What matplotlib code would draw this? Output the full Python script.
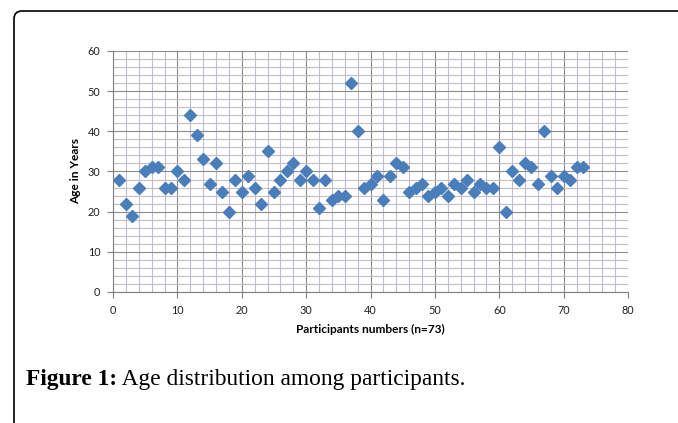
import matplotlib
matplotlib.use("Agg")
import matplotlib.pyplot as plt
from matplotlib.patches import FancyBboxPatch
from matplotlib.ticker import MultipleLocator

participants = list(range(1, 74))
ages = [28, 22, 19, 26, 30, 31, 31, 26, 26, 30,
        28, 44, 39, 33, 27, 32, 25, 20, 28, 25,
        29, 26, 22, 35, 25, 28, 30, 32, 28, 30,
        28, 21, 28, 23, 24, 24, 52, 40, 26, 27,
        29, 23, 29, 32, 31, 25, 26, 27, 24, 25,
        26, 24, 27, 26, 28, 25, 27, 26, 26, 36,
        20, 30, 28, 32, 31, 27, 40, 29, 26, 29,
        28, 31, 31]
x_label = "Participants numbers (n=73)"
y_label = "Age in Years"
caption_bold = "Figure 1:"
caption_text = " Age distribution among participants."

fig = plt.figure(figsize=(6.78, 4.23), dpi=100)
ax = fig.add_axes([113/678, 1 - 292/423, (628-113)/678, (292-51)/423])

ax.plot(participants, ages, linestyle="none", marker="D", markersize=5.8,
        color="#4a7ebb", markeredgecolor="#4a7ebb")

ax.set_xlim(0, 80)
ax.set_ylim(0, 60)
ax.xaxis.set_major_locator(MultipleLocator(10))
ax.yaxis.set_major_locator(MultipleLocator(10))
ax.xaxis.set_minor_locator(MultipleLocator(2))
ax.yaxis.set_minor_locator(MultipleLocator(2))
ax.grid(which="major", color="#8c8c8c", linewidth=0.8)
ax.grid(which="minor", color="#c4bccb", linewidth=0.8)
ax.set_axisbelow(True)

for side in ["top", "right"]:
    ax.spines[side].set_visible(False)
for side in ["left", "bottom"]:
    ax.spines[side].set_color("#808080")
ax.tick_params(which="major", length=4, color="#808080", labelsize=7.8,
               labelcolor="#222222", pad=5)
ax.tick_params(which="minor", length=0)

font = "Lato"
for lab in ax.get_xticklabels() + ax.get_yticklabels():
    lab.set_fontfamily(font)
ax.set_xlabel(x_label, fontsize=8.6, fontweight="bold", family=font, labelpad=6)
ax.set_ylabel(y_label, fontsize=8.6, fontweight="bold", family=font, labelpad=5)

# figure frame with rounded corner
frame = FancyBboxPatch((0.14, -1.0), 8.0, 4.23 - 0.11 + 1.0,
                       boxstyle="round,pad=0,rounding_size=0.08",
                       transform=fig.dpi_scale_trans, fill=False,
                       edgecolor="black", linewidth=1.2)
fig.patches.append(frame)

t1 = fig.text(26/678, 1 - 385/423, caption_bold, fontsize=16.8,
              fontweight="bold", family="Liberation Serif", va="baseline")
fig.canvas.draw()
bb = t1.get_window_extent()
fig.text(bb.x1 / fig.bbox.width, 1 - 385/423, caption_text, fontsize=16.8,
         family="Liberation Serif", va="baseline")

fig.savefig("out.png", dpi=100)
